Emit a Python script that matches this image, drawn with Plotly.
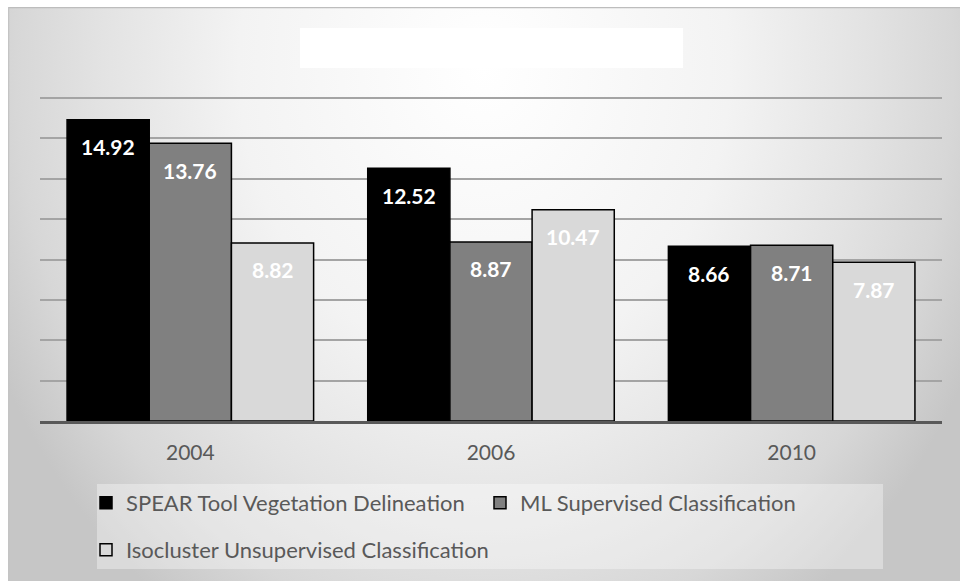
import base64
import plotly.graph_objects as go

# ---------------- data ----------------
years = ["2004", "2006", "2010"]
spear = [14.92, 12.52, 8.66]
ml_sup = [13.76, 8.87, 8.71]
iso_unsup = [8.82, 10.47, 7.87]
series_names = [
    "SPEAR Tool Vegetation Delineation",
    "ML Supervised Classification",
    "Isocluster Unsupervised Classification",
]
series_values = [spear, ml_sup, iso_unsup]
series_colors = ["#000000", "#808080", "#d9d9d9"]

# ---------------- layout geometry ----------------
W, H = 960, 581
ML, MR, MT, MB = 40, 18, 97, 160
PW, PH = W - ML - MR, H - MT - MB
BARGAP = 0.18
FONT = "Lato, 'Open Sans', sans-serif"


def px(x):
    return (x - ML) / PW


def py(y):
    return (H - MB - y) / PH


# gradient background as an inline SVG image
bw, bh = W - 8, H - 7
svg = f"""<svg xmlns='http://www.w3.org/2000/svg' width='{bw}' height='{bh}' viewBox='0 0 {bw} {bh}' preserveAspectRatio='none'>
<defs><radialGradient id='g' gradientUnits='userSpaceOnUse' cx='0' cy='0' r='1'
 gradientTransform='translate({bw/2},60) scale(545,660)'>
<stop offset='0' stop-color='#ffffff'/>
<stop offset='0.45' stop-color='#f3f3f3'/>
<stop offset='0.7' stop-color='#e3e3e3'/>
<stop offset='0.86' stop-color='#d7d7d7'/>
<stop offset='1' stop-color='#c6c6c6'/>
</radialGradient></defs>
<rect x='0' y='0' width='{bw}' height='{bh}' fill='url(#g)'/>
<line x1='0' y1='0.5' x2='{bw}' y2='0.5' stroke='#bdbdbd' stroke-width='1.5'/>
<line x1='0.5' y1='0' x2='0.5' y2='{bh}' stroke='#c4c4c4' stroke-width='1.5'/>
</svg>"""
svg_uri = "data:image/svg+xml;base64," + base64.b64encode(svg.encode()).decode()

fig = go.Figure()
for k, (name, vals, col) in enumerate(zip(series_names, series_values, series_colors)):
    fig.add_trace(
        go.Bar(
            x=years,
            y=vals,
            name=name,
            marker=dict(color=col, line=dict(color="#000000", width=1.5)),
            legend="legend" if k < 2 else "legend2",
            hoverinfo="x+y+name",
        )
    )

# data labels (inside end of each bar)
bar_w = (1 - BARGAP) / len(series_values)
annotations = []
for k, vals in enumerate(series_values):
    for i, v in enumerate(vals):
        annotations.append(
            dict(
                x=i + (k - (len(series_values) - 1) / 2) * bar_w,
                y=v,
                xref="x",
                yref="y",
                text=f"<b>{v:.2f}</b>",
                showarrow=False,
                yanchor="middle",
                yshift=-27,
                font=dict(family=FONT, size=21, color="#ffffff"),
            )
        )

fig.update_layout(
    width=W,
    height=H,
    margin=dict(l=ML, r=MR, t=MT, b=MB, pad=0),
    paper_bgcolor="#ffffff",
    plot_bgcolor="rgba(0,0,0,0)",
    barmode="group",
    bargap=BARGAP,
    bargroupgap=0,
    font=dict(family=FONT, color="#595959"),
    annotations=annotations,
    images=[
        dict(
            source=svg_uri,
            xref="paper",
            yref="paper",
            x=px(8),
            y=py(7),
            sizex=(W - 8) / PW,
            sizey=(H - 7) / PH,
            xanchor="left",
            yanchor="top",
            sizing="stretch",
            layer="below",
        )
    ],
    shapes=[
        # empty white title box
        dict(type="rect", xref="paper", yref="paper",
             x0=px(300), x1=px(683), y0=py(68), y1=py(28),
             fillcolor="#ffffff", line=dict(width=0), layer="below"),
        # legend panel
        dict(type="rect", xref="paper", yref="paper",
             x0=px(97), x1=px(883), y0=py(569), y1=py(484),
             fillcolor="rgba(255,255,255,0.35)", line=dict(width=0), layer="below"),
    ],
    xaxis=dict(
        type="category",
        showline=True,
        linecolor="#595959",
        linewidth=2.5,
        showgrid=False,
        ticks="",
        tickfont=dict(family=FONT, size=21, color="#595959"),
        ticklabelstandoff=11,
        fixedrange=True,
    ),
    yaxis=dict(
        range=[0, 16.05],
        dtick=2,
        showgrid=True,
        gridcolor="#a4a4a4",
        gridwidth=1.5,
        showticklabels=False,
        zeroline=False,
        showline=False,
        ticks="",
        fixedrange=True,
    ),
    legend=dict(
        orientation="h",
        xref="container",
        yref="container",
        x=86 / W,
        y=1 - 482 / H,
        xanchor="left",
        yanchor="top",
        entrywidth=349,
        entrywidthmode="pixels",
        bgcolor="rgba(0,0,0,0)",
        font=dict(family=FONT, size=22, color="#595959"),
        traceorder="normal",
    ),
    legend2=dict(
        orientation="h",
        xref="container",
        yref="container",
        x=86 / W,
        y=1 - 529 / H,
        xanchor="left",
        yanchor="top",
        bgcolor="rgba(0,0,0,0)",
        font=dict(family=FONT, size=22, color="#595959"),
    ),
    showlegend=True,
)

fig.write_html(
    "out.html",
    config={"displayModeBar": False},
    post_script="document.body.style.margin='0';document.body.style.overflow='hidden';",
)
